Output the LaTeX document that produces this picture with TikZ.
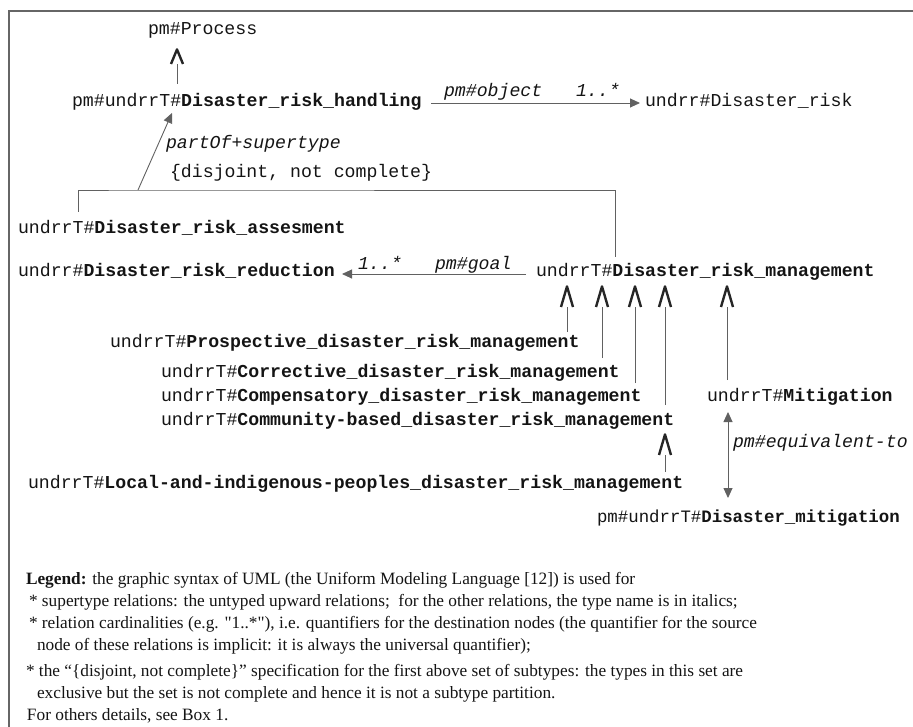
\documentclass[tikz,border=0pt]{standalone}
\usepackage{fontspec}
\setmainfont{Liberation Serif}[Ligatures=TeXOff]
\newfontfamily\mono{Liberation Mono}
\usetikzlibrary{arrows.meta}

\pgfdeclarearrow{
  name = Lam,
  defaults = {length = 22pt, width = 12pt, line width = 2.4pt},
  parameters = {\the\pgfarrowlength,\the\pgfarrowwidth,\the\pgfarrowlinewidth},
  setup code = {
    \pgfarrowssettipend{0pt}
    \pgfarrowssetlineend{-\pgfarrowlength}
    \pgfarrowssetbackend{-\pgfarrowlength}
    \pgfarrowshullpoint{0pt}{0pt}
    \pgfarrowshullpoint{-\pgfarrowlength}{.5\pgfarrowwidth}
    \pgfarrowshullpoint{-\pgfarrowlength}{-.5\pgfarrowwidth}
    \pgfarrowssavethe\pgfarrowlength
    \pgfarrowssavethe\pgfarrowwidth
    \pgfarrowssavethe\pgfarrowlinewidth
  },
  drawing code = {
    \pgfsetlinewidth{\pgfarrowlinewidth}
    \pgfsetstrokecolor{black!85}
    \pgfsetroundjoin
    \pgfsetbuttcap
    \pgfpathmoveto{\pgfpoint{-\pgfarrowlength}{.5\pgfarrowwidth}}
    \pgfpathlineto{\pgfpoint{-0.6\pgfarrowlinewidth}{0pt}}
    \pgfpathlineto{\pgfpoint{-\pgfarrowlength}{-.5\pgfarrowwidth}}
    \pgfusepathqstroke
  }
}

\tikzset{
  every node/.style={inner sep=0pt, outer sep=0pt, anchor=base west, text=black!92},
  cls/.style={font=\mono\fontsize{18.2}{20}\selectfont},
  lbl/.style={font=\mono\itshape\fontsize{18.2}{20}\selectfont},
  leg/.style={font=\fontsize{17.3}{20}\selectfont},
  conn/.style={draw=black!62, line width=0.9pt},
  sub/.style={conn, -{Lam}},
  assoc/.style={conn, -{Triangle[length=10pt,width=9pt]}},
  equiv/.style={conn, {Triangle[length=10pt,width=9pt]}-{Triangle[length=10pt,width=9pt]}},
  frame/.style={draw=black!60, line width=1.2pt}
}

\begin{document}
\begin{tikzpicture}[x=1pt, y=-1pt]
\useasboundingbox (0,0) rectangle (913,727);
\draw[frame] (913,11) -- (9,11) -- (9,727);

% class nodes
\node[cls] (proc) at (148,35) {pm\#Process};
\node[cls] (hand) at (72,107) {pm\#undrrT\#\textbf{Disaster\_risk\_handling}};
\node[cls] (risk) at (645,107) {undrr\#Disaster\_risk};
\node[cls] (assess) at (18,234) {undrrT\#\textbf{Disaster\_risk\_assesment}};
\node[cls] (red) at (18,277) {undrr\#\textbf{Disaster\_risk\_reduction}};
\node[cls] (mgmt) at (536,277) {undrrT\#\textbf{Disaster\_risk\_management}};
\node[cls] (prosp) at (110,348) {undrrT\#\textbf{Prospective\_disaster\_risk\_management}};
\node[cls] (corr) at (161,377) {undrrT\#\textbf{Corrective\_disaster\_risk\_management}};
\node[cls] (comp) at (161,401) {undrrT\#\textbf{Compensatory\_disaster\_risk\_management}};
\node[cls] (comm) at (161,425) {undrrT\#\textbf{Community-based\_disaster\_risk\_management}};
\node[cls] (mitig) at (707,401) {undrrT\#\textbf{Mitigation}};
\node[cls] (local) at (28,488) {undrrT\#\textbf{Local-and-indigenous-peoples\_disaster\_risk\_management}};
\node[cls, font=\mono\fontsize{17.4}{20}\selectfont] (dmit) at (597,522) {pm\#undrrT\#\textbf{Disaster\_mitigation}};

% relation labels
\node[lbl] (lobj) at (444,97) {pm\#object};
\node[lbl] (lobjc) at (576,97) {1..*};
\node[lbl] (lpart) at (166,149) {partOf+supertype};
\node[cls] (ldisj) at (170,178) {\{disjoint, not complete\}};
\node[lbl] (lgoalc) at (358,270) {1..*};
\node[lbl] (lgoal) at (435,270) {pm\#goal};
\node[lbl] (lequiv) at (733,447) {pm\#equivalent-to};

% supertype relations
\draw[sub, {-Lam[length=16pt]}] ([shift={(105,-23)}]hand.base west) -- ([shift={(29,13)}]proc.base west);
\draw[sub] ([shift={(457,-16)}]prosp.base west) -- ([shift={(31,8)}]mgmt.base west);
\draw[sub] ([shift={(441,-19)}]corr.base west) -- ([shift={(66,8)}]mgmt.base west);
\draw[sub] ([shift={(474,-18)}]comp.base west) -- ([shift={(99,8)}]mgmt.base west);
\draw[sub] ([shift={(504,-20)}]comm.base west) -- ([shift={(129,8)}]mgmt.base west);
\draw[sub] ([shift={(20,-21)}]mitig.base west) -- ([shift={(191,8)}]mgmt.base west);
\draw[sub] ([shift={(637,-16)}]local.base west) -- ([shift={(504,8)}]comm.base west);

% grouping bracket and partOf relation
\coordinate (assessTop) at ([shift={(60,-22)}]assess.base west);
\coordinate (mgmtTop) at ([shift={(79,-20)}]mgmt.base west);
\coordinate (join) at (138,190);
\draw[conn] (assessTop) |- (join) -| (mgmtTop);
\draw[assoc] (join) -- ([shift={(100,6)}]hand.base west);

% other relations
\draw[assoc] ([shift={(359,-4)}]hand.base west) -- ([shift={(-5,-4)}]risk.base west);
\draw[assoc] ([shift={(-10,-3)}]mgmt.base west) -- ([shift={(324,-3)}]red.base west);
\draw[equiv] ([shift={(21,11)}]mitig.base west) -- ([shift={(131,-24)}]dmit.base west);

% legend
\node[leg] (leg1) at (26,584) {\textbf{Legend:} the graphic syntax of UML (the Uniform Modeling Language [12]) is used for};
\node[leg] (leg2) at (29,606) {* supertype relations: the untyped upward relations;\ \ for the other relations, the type name is in italics;};
\node[leg] (leg3) at (29,628) {* relation cardinalities (e.g. "1..*"), i.e. quantifiers for the destination nodes (the quantifier for the source};
\node[leg] (leg4) at (37,650) {node of these relations is implicit: it is always the universal quantifier);};
\node[leg] (leg5) at (26,676) {* the “\{disjoint, not complete\}” specification for the first above set of subtypes: the types in this set are};
\node[leg] (leg6) at (37,698) {exclusive but the set is not complete and hence it is not a subtype partition.};
\node[leg] (leg7) at (27,720) {For others details, see Box 1.};
\end{tikzpicture}
\end{document}
